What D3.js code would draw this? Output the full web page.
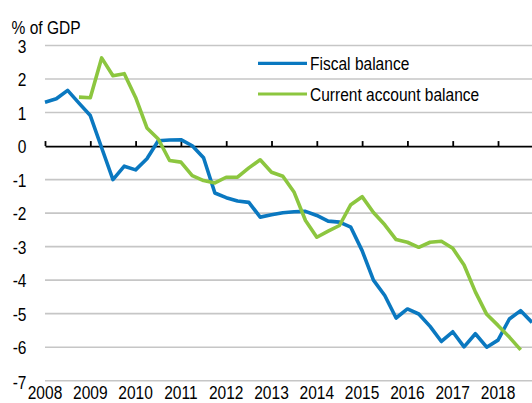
<!DOCTYPE html>
<meta charset="utf-8">
<title>Fiscal and current account balance</title>
<style>
  body { margin: 0; background: #fff; }
  svg text { font-family: "Liberation Sans", Arial, sans-serif; font-size: 18.5px; fill: #000; }
</style>
<body>
<svg width="532" height="403"></svg>
<script src="https://d3js.org/d3.v7.min.js"></script>
<script>
// quarterly data, 2008Q1 .. 2018Q4
const quarters = d3.range(2008, 2019, 0.25);
const fiscal = [
  1.31, 1.41, 1.66, 1.28,
  0.91, -0.05, -1.0, -0.6,
  -0.71, -0.38, 0.16, 0.18,
  0.19, 0.01, -0.35, -1.4,
  -1.54, -1.64, -1.68, -2.12,
  -2.05, -1.99, -1.96, -1.95,
  -2.07, -2.24, -2.27, -2.42,
  -3.12, -4.0, -4.46, -5.13,
  -4.86, -5.01, -5.38, -5.83,
  -5.54, -5.99, -5.6, -6.0,
  -5.79, -5.16, -4.91, -5.26
];
const current = [
  null, null, null, 1.46,
  1.44, 2.63, 2.1, 2.16,
  1.45, 0.54, 0.21, -0.43,
  -0.48, -0.88, -1.03, -1.1,
  -0.93, -0.93, -0.65, -0.41,
  -0.78, -0.9, -1.38, -2.22,
  -2.72, -2.54, -2.37, -1.75,
  -1.51, -1.98, -2.35, -2.79,
  -2.87, -3.02, -2.87, -2.84,
  -3.05, -3.55, -4.35, -5.02,
  -5.35, -5.7, -6.08, null
];
const years = d3.range(2008, 2019);
const yTicks = d3.range(-7, 4);
const seriesNames = ["Fiscal balance", "Current account balance"];
const colors = ["#0a78c0", "#8cc63f"];

const svg = d3.select("svg");
const x = d3.scaleLinear().domain([2008, 2018.75]).range([45, 532]);
const y = d3.scaleLinear().domain([-7, 3]).range([380.7, 45.5]);
const sx = 0.84; // condensed look of the original font

function squeeze(sel) {
  sel.each(function () {
    const t = d3.select(this);
    const tx = +t.attr("x") || 0, ty = +t.attr("y") || 0;
    t.attr("x", 0).attr("y", 0).attr("transform", `translate(${tx},${ty}) scale(${sx},1)`);
  });
}

// gridlines
svg.append("g")
  .selectAll("line")
  .data(yTicks.filter(d => d !== 0))
  .join("line")
  .attr("x1", 45).attr("x2", 532)
  .attr("y1", d => y(d)).attr("y2", d => y(d))
  .attr("stroke", "#c6c6c6").attr("stroke-width", 1.6);

// y labels
svg.append("g")
  .selectAll("text")
  .data(yTicks)
  .join("text")
  .attr("text-anchor", "end")
  .attr("x", 26.5).attr("y", d => y(d) + (d === -7 ? 8.5 : 7.2))
  .text(d => d)
  .call(squeeze);

svg.append("text").attr("x", 11.5).attr("y", 34).text("% of GDP").call(squeeze);

// zero axis with upward ticks
const xAxis = svg.append("g")
  .attr("transform", `translate(0,${y(0)})`)
  .call(d3.axisTop(x).tickValues(years).tickSize(5).tickSizeOuter(0).tickFormat(""));
xAxis.selectAll("path, line").attr("stroke", "#000").attr("stroke-width", 1.8);

// year labels
svg.append("g")
  .selectAll("text")
  .data(years)
  .join("text")
  .attr("text-anchor", "middle")
  .attr("x", d => x(d)).attr("y", 399)
  .text(d => d)
  .call(squeeze);

// lines
const line = d3.line()
  .defined(d => d[1] != null)
  .x(d => x(d[0])).y(d => y(d[1]));

[fiscal, current].forEach((vals, i) => {
  svg.append("path")
    .datum(quarters.map((q, j) => [q, vals[j]]))
    .attr("fill", "none")
    .attr("stroke", colors[i])
    .attr("stroke-width", 3.6)
    .attr("stroke-linejoin", "round")
    .attr("d", line);
});

// legend
const legend = svg.append("g");
seriesNames.forEach((name, i) => {
  const ly = 63.3 + i * 30.7;
  legend.append("line")
    .attr("x1", 258).attr("x2", 307)
    .attr("y1", ly).attr("y2", ly)
    .attr("stroke", colors[i]).attr("stroke-width", 3.2);
  legend.append("text")
    .attr("x", 310).attr("y", ly + 6.8)
    .text(name)
    .call(squeeze);
});
</script>
</body>
